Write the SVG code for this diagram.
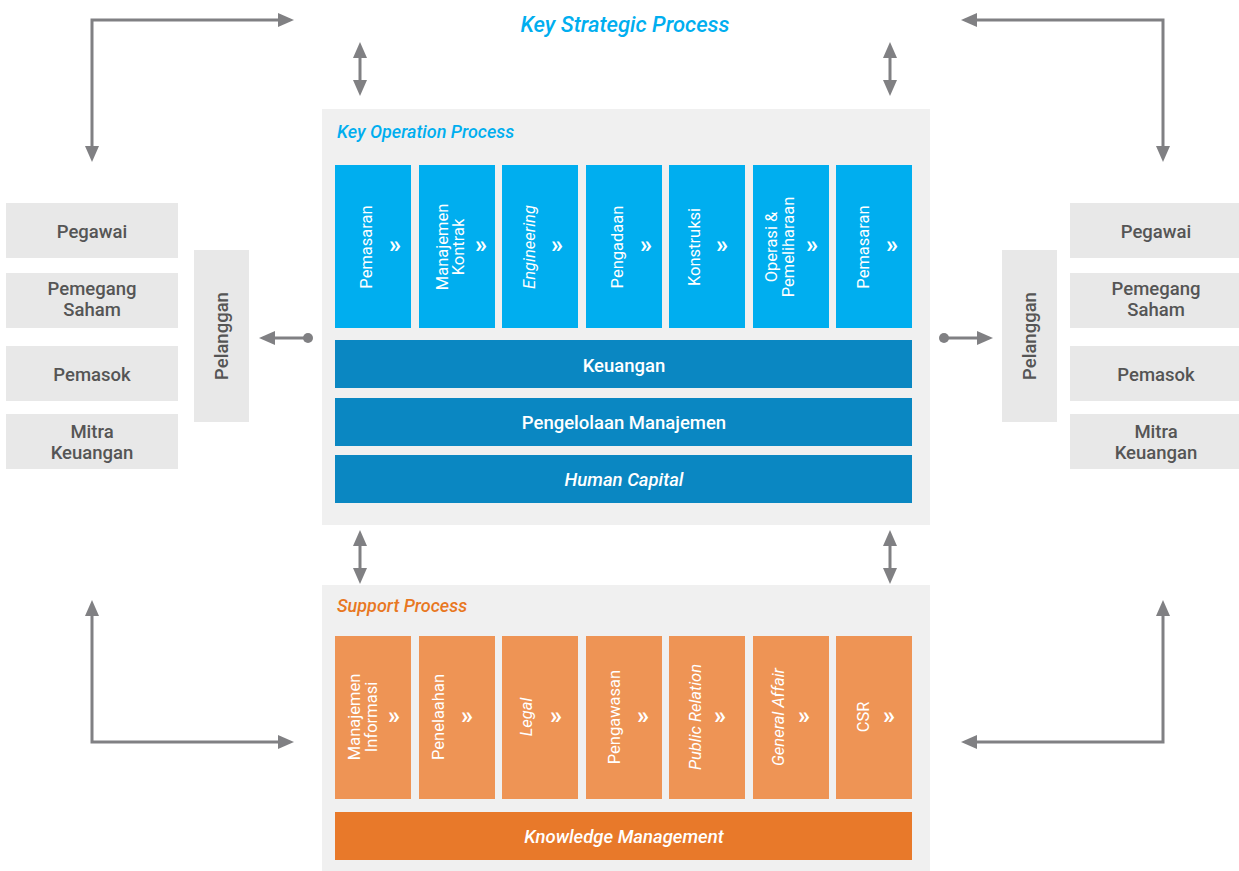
<svg xmlns="http://www.w3.org/2000/svg" width="1239" height="871" viewBox="0 0 1239 871">
<style>
text{font-family:Roboto,"Liberation Sans",sans-serif}
.panel{fill:#f0f0f0}
.blue{fill:#00aeef}
.dblue{fill:#0a87c2}
.org{fill:#ee9455}
.dorg{fill:#e8792a}
.grey{fill:#e8e8e8}
.vt{fill:#fff;font-size:16.5px;text-anchor:middle}
.it{font-style:italic}
.chev{fill:#fff;font-size:24px;font-weight:700;text-anchor:middle}
.bar{fill:#fff;font-size:18.5px;font-weight:500;text-anchor:middle}
.side{fill:#555;font-size:18.5px;font-weight:500;text-anchor:middle}
.conn{fill:none;stroke:#808083;stroke-width:3}
</style>
<defs>
<marker id="ah" viewBox="0 0 16 14" refX="1" refY="7" markerWidth="16" markerHeight="14" markerUnits="userSpaceOnUse" orient="auto-start-reverse"><path d="M0,0 L16,7 L0,14 z" fill="#808083"/></marker>
<marker id="dot" viewBox="0 0 12 12" refX="6" refY="6" markerWidth="12" markerHeight="12" markerUnits="userSpaceOnUse"><circle cx="6" cy="6" r="5" fill="#808083"/></marker>
</defs>
<rect width="1239" height="871" fill="#fff"/>
<text x="625" y="32" text-anchor="middle" font-size="22" font-weight="500" font-style="italic" fill="#00aeef">Key Strategic Process</text>

<g id="connectors">
<path class="conn" d="M92,147 V20 H279" marker-start="url(#ah)" marker-end="url(#ah)"/>
<path class="conn" d="M1163,147 V20 H976" marker-start="url(#ah)" marker-end="url(#ah)"/>
<path class="conn" d="M92,615 V742 H279" marker-start="url(#ah)" marker-end="url(#ah)"/>
<path class="conn" d="M1163,615 V742 H976" marker-start="url(#ah)" marker-end="url(#ah)"/>
<path class="conn" d="M360,57 V81" marker-start="url(#ah)" marker-end="url(#ah)"/>
<path class="conn" d="M890,57 V81" marker-start="url(#ah)" marker-end="url(#ah)"/>
<path class="conn" d="M360,545 V569" marker-start="url(#ah)" marker-end="url(#ah)"/>
<path class="conn" d="M890,545 V569" marker-start="url(#ah)" marker-end="url(#ah)"/>
<path class="conn" d="M308,338 H274" marker-start="url(#dot)" marker-end="url(#ah)"/>
<path class="conn" d="M944,338 H978" marker-start="url(#dot)" marker-end="url(#ah)"/>
</g>

<g id="key-operation">
<rect class="panel" x="322" y="109" width="608" height="416"/>
<text x="337" y="138" font-size="18" font-weight="500" font-style="italic" fill="#00aeef">Key Operation Process</text>
</g>
<g id="op-pemasaran1"><rect class="blue" x="335" y="165" width="76" height="163"/><text class="vt" transform="translate(372,247) rotate(-90)">Pemasaran</text><text class="chev" x="395" y="253">»</text></g>
<g id="op-manajemen-kontrak"><rect class="blue" x="419" y="165" width="76" height="163"/><text class="vt" transform="translate(448,247) rotate(-90)">Manajemen</text><text class="vt" transform="translate(464,247) rotate(-90)">Kontrak</text><text class="chev" x="481" y="253">»</text></g>
<g id="op-engineering"><rect class="blue" x="502" y="165" width="76" height="163"/><text class="vt it" transform="translate(535,247) rotate(-90)">Engineering</text><text class="chev" x="557" y="253">»</text></g>
<g id="op-pengadaan"><rect class="blue" x="586" y="165" width="76" height="163"/><text class="vt" transform="translate(623,247) rotate(-90)">Pengadaan</text><text class="chev" x="646" y="253">»</text></g>
<g id="op-konstruksi"><rect class="blue" x="669" y="165" width="76" height="163"/><text class="vt" transform="translate(700,247) rotate(-90)">Konstruksi</text><text class="chev" x="722" y="253">»</text></g>
<g id="op-operasi"><rect class="blue" x="753" y="165" width="76" height="163"/><text class="vt" transform="translate(777,247) rotate(-90)">Operasi &amp;</text><text class="vt" transform="translate(794,247) rotate(-90)">Pemeliharaan</text><text class="chev" x="812" y="253">»</text></g>
<g id="op-pemasaran2"><rect class="blue" x="836" y="165" width="76" height="163"/><text class="vt" transform="translate(869,247) rotate(-90)">Pemasaran</text><text class="chev" x="892" y="253">»</text></g>
<g id="keuangan"><rect class="dblue" x="335" y="340" width="577" height="48"/><text class="bar" x="624" y="372">Keuangan</text></g>
<g id="pengelolaan"><rect class="dblue" x="335" y="398" width="577" height="48"/><text class="bar" x="624" y="429">Pengelolaan Manajemen</text></g>
<g id="human-capital"><rect class="dblue" x="335" y="455" width="577" height="48"/><text class="bar it" x="624" y="486">Human Capital</text></g>

<g id="support">
<rect class="panel" x="322" y="585" width="608" height="286"/>
<text x="337" y="612" font-size="18" font-weight="500" font-style="italic" fill="#e87722">Support Process</text>
</g>
<g id="sp-manajemen-informasi"><rect class="org" x="335" y="636" width="76" height="163"/><text class="vt" transform="translate(360,717) rotate(-90)">Manajemen</text><text class="vt" transform="translate(377,717) rotate(-90)">Informasi</text><text class="chev" x="394" y="724">»</text></g>
<g id="sp-penelaahan"><rect class="org" x="419" y="636" width="76" height="163"/><text class="vt" transform="translate(444,717) rotate(-90)">Penelaahan</text><text class="chev" x="467" y="724">»</text></g>
<g id="sp-legal"><rect class="org" x="502" y="636" width="76" height="163"/><text class="vt it" transform="translate(532,717) rotate(-90)">Legal</text><text class="chev" x="556" y="724">»</text></g>
<g id="sp-pengawasan"><rect class="org" x="586" y="636" width="76" height="163"/><text class="vt" transform="translate(620,717) rotate(-90)">Pengawasan</text><text class="chev" x="643" y="724">»</text></g>
<g id="sp-public-relation"><rect class="org" x="669" y="636" width="76" height="163"/><text class="vt it" transform="translate(701,717) rotate(-90)">Public Relation</text><text class="chev" x="720" y="724">»</text></g>
<g id="sp-general-affair"><rect class="org" x="753" y="636" width="76" height="163"/><text class="vt it" transform="translate(784,717) rotate(-90)">General Affair</text><text class="chev" x="804" y="724">»</text></g>
<g id="sp-csr"><rect class="org" x="836" y="636" width="76" height="163"/><text class="vt" transform="translate(869,717) rotate(-90)">CSR</text><text class="chev" x="889" y="724">»</text></g>
<g id="knowledge"><rect class="dorg" x="335" y="812" width="577" height="48"/><text class="bar it" x="624" y="843">Knowledge Management</text></g>

<g id="l-pegawai"><rect class="grey" x="6" y="203" width="172" height="55"/><text class="side" x="92" y="238">Pegawai</text></g>
<g id="l-pemegang"><rect class="grey" x="6" y="273" width="172" height="55"/><text class="side" x="92" y="295">Pemegang</text><text class="side" x="92" y="316">Saham</text></g>
<g id="l-pemasok"><rect class="grey" x="6" y="346" width="172" height="55"/><text class="side" x="92" y="381">Pemasok</text></g>
<g id="l-mitra"><rect class="grey" x="6" y="414" width="172" height="55"/><text class="side" x="92" y="438">Mitra</text><text class="side" x="92" y="459">Keuangan</text></g>
<g id="l-pelanggan"><rect class="grey" x="194" y="250" width="55" height="172"/><text class="side" transform="translate(228,336) rotate(-90)">Pelanggan</text></g>

<g id="r-pegawai"><rect class="grey" x="1070" y="203" width="169" height="55"/><text class="side" x="1156" y="238">Pegawai</text></g>
<g id="r-pemegang"><rect class="grey" x="1070" y="273" width="169" height="55"/><text class="side" x="1156" y="295">Pemegang</text><text class="side" x="1156" y="316">Saham</text></g>
<g id="r-pemasok"><rect class="grey" x="1070" y="346" width="169" height="55"/><text class="side" x="1156" y="381">Pemasok</text></g>
<g id="r-mitra"><rect class="grey" x="1070" y="414" width="169" height="55"/><text class="side" x="1156" y="438">Mitra</text><text class="side" x="1156" y="459">Keuangan</text></g>
<g id="r-pelanggan"><rect class="grey" x="1002" y="250" width="55" height="172"/><text class="side" transform="translate(1036,336) rotate(-90)">Pelanggan</text></g>
</svg>
